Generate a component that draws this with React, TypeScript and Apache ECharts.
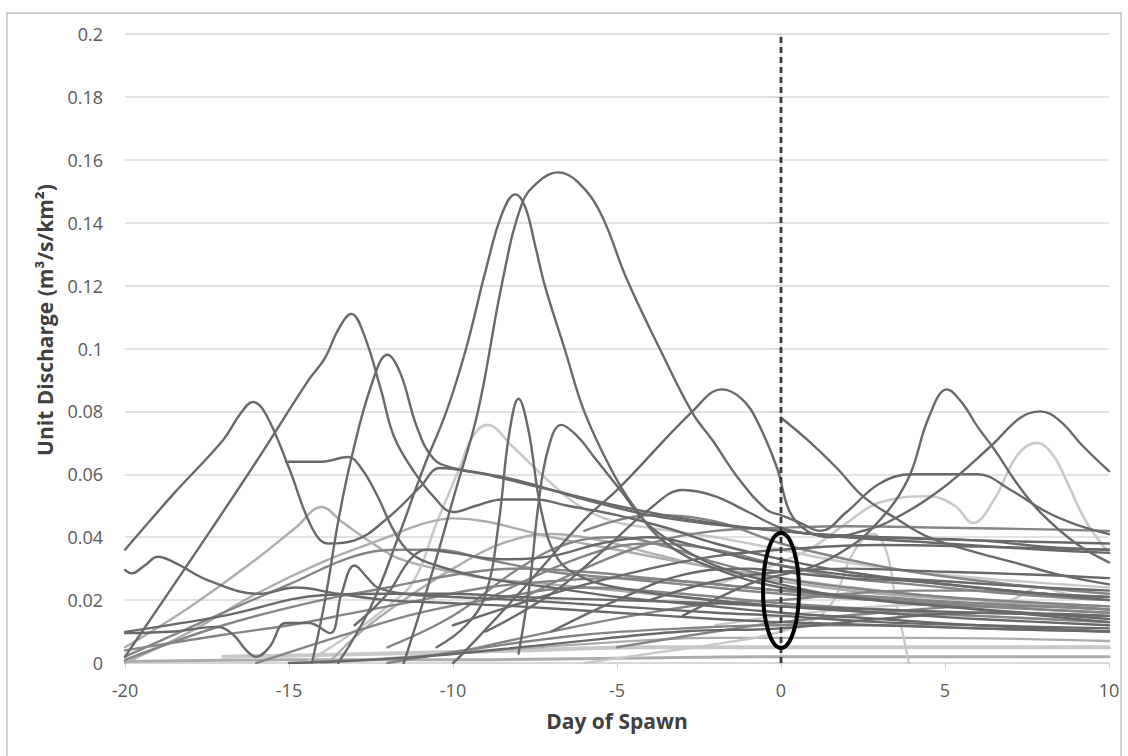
import React, { useEffect, useRef } from "react";
import * as echarts from "echarts";

// ---- axis / text ----
const xAxisTitle = "Day of Spawn";
const yAxisTitle = "Unit Discharge (m³/s/km²)";
const xMin = -20, xMax = 10, xStep = 5;
const yMin = 0, yMax = 0.2, yStep = 0.02;
const spawnDay = 0;
const circledRange = [0.0048, 0.0413]; // y extent of highlighted ellipse at day 0

// ---- series values ([day, unit discharge]) ----
const peak083 = [[-20,0.036],[-18.5,0.054],[-17,0.071],[-16.5,0.079],[-16.1,0.083],[-15.7,0.079],[-15,0.062],[-14.3,0.043],[-13.8,0.038],[-13,0.039],[-12,0.046],[-11,0.056],[-10.4,0.062],[-9.5,0.061],[-8,0.058],[-6,0.052],[-4,0.047],[-2,0.044],[0,0.042],[2,0.040],[5,0.038],[8,0.036],[10,0.035]];
const peak111 = [[-20,0.002],[-18.5,0.025],[-17.4,0.042],[-16,0.064],[-14.4,0.09],[-13.9,0.097],[-13.5,0.106],[-13.1,0.111],[-12.7,0.104],[-12.2,0.087],[-11.8,0.072],[-11.2,0.061],[-10.6,0.053],[-10,0.048],[-9.3,0.05],[-8.5,0.052],[-7.5,0.052],[-6.5,0.05],[-5,0.047],[-3.5,0.043],[-2,0.038],[0,0.033],[2,0.029],[5,0.025],[8,0.022],[10,0.020]];
const peak098 = [[-14.3,0.0],[-13.9,0.02],[-13.5,0.045],[-13.1,0.065],[-12.5,0.088],[-12.0,0.098],[-11.6,0.092],[-11.1,0.075],[-10.6,0.065],[-10,0.062],[-9,0.060],[-8.6,0.059],[-7,0.055],[-5,0.050],[-3,0.046],[-1,0.043],[0,0.042],[1,0.041],[3,0.040],[6,0.039],[10,0.038]];
const plateau065 = [[-15.1,0.064],[-14,0.064],[-13.2,0.0655],[-12.8,0.062],[-12.3,0.053],[-11.8,0.042],[-11.3,0.035],[-10.5,0.031],[-9,0.027],[-7,0.024],[-5,0.021],[-3,0.019],[0,0.016],[3,0.014],[6,0.012],[10,0.010]];
const peak149 = [[-13.5,0.0],[-12.5,0.018],[-11.6,0.042],[-10.9,0.062],[-10.2,0.08],[-9.6,0.1],[-9.0,0.125],[-8.5,0.143],[-8.1,0.149],[-7.8,0.145],[-7.5,0.133],[-7.2,0.12],[-6.6,0.1],[-6.0,0.08],[-5.2,0.062],[-4.5,0.05],[-3.5,0.038],[-2,0.03],[0,0.024],[3,0.02],[6,0.017],[10,0.013]];
const peak156 = [[-11.5,0.0],[-10.6,0.03],[-10,0.052],[-9.24,0.08],[-8.5,0.121],[-7.9,0.146],[-7.4,0.153],[-6.8,0.156],[-6.2,0.153],[-5.5,0.143],[-4.7,0.122],[-3.7,0.1],[-2.7,0.0795],[-2.1,0.071],[-1.25,0.058],[-0.43,0.0487],[0,0.047],[0.6,0.0445],[1.2,0.042],[2,0.048],[3,0.057],[4,0.060],[5,0.060],[6,0.060],[7,0.055],[8.1,0.048],[9,0.044],[10,0.041]];
const peak087 = [[-10,0.0],[-9.7,0.003],[-8,0.022],[-6,0.0455],[-4.9,0.056],[-2.7,0.08],[-1.8,0.087],[-1.2,0.084],[-0.73,0.077],[-0.12,0.062],[0.27,0.048],[0.8,0.042],[1.5,0.040],[2.5,0.042],[3.3,0.045],[4.85,0.055],[6.4,0.069],[7.3,0.078],[7.9,0.080],[8.5,0.077],[9.2,0.069],[10,0.061]];
const peakDay5 = [[-3,0.015],[-1,0.025],[0,0.028],[0.8,0.030],[1.8,0.035],[2.8,0.043],[3.85,0.058],[4.5,0.078],[5.06,0.087],[5.5,0.083],[6,0.075],[6.5,0.068],[7.2,0.057],[7.9,0.048],[9,0.038],[10,0.032]];
const fromDay0 = [[0,0.078],[0.8,0.071],[1.7,0.062],[2.5,0.053],[3.5,0.046],[4.5,0.040],[6,0.035],[7.1,0.032],[8.5,0.028],[10,0.025]];
const spike084 = [[-10.5,0.005],[-9.6,0.012],[-9,0.022],[-8.6,0.045],[-8.3,0.072],[-8.0,0.084],[-7.7,0.074],[-7.3,0.048],[-6.8,0.033],[-6,0.027],[-5,0.024],[-3,0.021],[0,0.018],[3,0.016],[6,0.014],[10,0.012]];
const peak076 = [[-8,0.003],[-7.65,0.026],[-7.4,0.05],[-7.1,0.068],[-6.7,0.0757],[-6.2,0.072],[-5.7,0.0655],[-4.9,0.055],[-4.1,0.0445],[-3.1,0.037],[-2,0.031],[0,0.025],[2,0.021],[5,0.018],[10,0.014]];
const lightPeak075 = [[-14.5,0.0],[-13,0.01],[-12,0.018],[-11.2,0.026],[-10.5,0.0445],[-9.8,0.062],[-9.4,0.072],[-8.96,0.0757],[-8.2,0.069],[-7.1,0.058],[-6.1,0.0496],[-5.1,0.045],[-4,0.043],[-2,0.04],[0,0.036],[2,0.032],[5,0.028],[10,0.024]];
const lightHump049 = [[-20,0.005],[-18,0.018],[-16,0.033],[-14.8,0.043],[-14,0.0496],[-13.4,0.045],[-12.3,0.037],[-11.6,0.033],[-10.5,0.03],[-9,0.027],[-7,0.025],[-5,0.023],[-3,0.021],[0,0.018],[3,0.016],[6,0.015],[10,0.013]];
const bump034 = [[-20,0.0296],[-19.8,0.0285],[-19.4,0.031],[-19.0,0.0338],[-18.5,0.032],[-17.4,0.026],[-15.9,0.022],[-14.8,0.024],[-13.5,0.022],[-12,0.020],[-10,0.019],[-8,0.018],[-5,0.016],[-2,0.014],[0,0.013],[3,0.012],[6,0.011],[10,0.010]];
const wiggleLow = [[-20,0.0095],[-18.5,0.010],[-17.2,0.0115],[-16.7,0.009],[-16.3,0.004],[-16,0.002],[-15.6,0.005],[-15.1,0.0127],[-14.4,0.0127],[-13.75,0.0095],[-13.4,0.022],[-13,0.031],[-12.6,0.027],[-12.3,0.024],[-11.5,0.022],[-10,0.021],[-8,0.02],[-5,0.018],[-2,0.016],[0,0.015],[3,0.013],[6,0.012],[10,0.011]];
const straight010 = [[-20,0.0099],[-17,0.015],[-13.9,0.0216],[-12,0.022],[-10,0.022],[-8,0.021],[-5,0.02],[-2,0.019],[0,0.018],[3,0.017],[6,0.016],[10,0.015]];
const fanA = [[-20,0.001],[-17,0.012],[-14,0.02],[-12,0.024],[-10,0.028],[-8,0.03],[-6,0.029],[-4,0.027],[-2,0.025],[0,0.023],[3,0.021],[6,0.019],[10,0.017]];
const fanB = [[-20,0.002],[-17,0.016],[-15,0.025],[-13,0.034],[-11.5,0.036],[-10.5,0.036],[-9,0.033],[-7,0.029],[-5,0.027],[-3,0.025],[0,0.022],[3,0.02],[6,0.018],[10,0.016]];
const fanC = [[-20,0.0],[-18,0.01],[-16,0.022],[-14,0.032],[-12,0.04],[-11,0.044],[-10,0.046],[-9,0.045],[-7,0.04],[-5,0.036],[-3,0.032],[0,0.027],[3,0.023],[6,0.02],[10,0.017]];
const fanD = [[-20,0.004],[-17,0.009],[-15,0.012],[-13,0.016],[-11,0.02],[-9,0.024],[-7,0.026],[-5,0.027],[-3,0.026],[-1,0.024],[0,0.023],[2,0.021],[5,0.019],[8,0.017],[10,0.016]];
const hump040 = [[-12,0.005],[-10,0.015],[-8,0.03],[-6.5,0.038],[-5,0.04],[-3.5,0.037],[-2,0.032],[0,0.027],[2,0.024],[5,0.021],[10,0.018]];
const hump055 = [[-9,0.01],[-7,0.022],[-5.5,0.035],[-4,0.049],[-3,0.055],[-2,0.053],[-1,0.048],[0,0.043],[1,0.041],[3,0.040],[6,0.039],[8,0.037],[10,0.036]];
const hump036 = [[-13,0.012],[-12,0.022],[-11.3,0.033],[-10.8,0.036],[-10,0.035],[-8.5,0.033],[-7,0.034],[-5.5,0.038],[-4,0.04],[-2.5,0.037],[-1,0.033],[0,0.031],[2,0.028],[5,0.026],[8,0.024],[10,0.023]];
const lightDrop = [[-6,0.0],[-4,0.003],[-2,0.006],[0,0.01],[1.4,0.017],[2.2,0.035],[2.8,0.041],[3.2,0.036],[3.5,0.02],[3.9,0.0]];
const lightPeak070 = [[-2,0.025],[0,0.032],[1,0.037],[2,0.0445],[3,0.051],[4.5,0.053],[5.3,0.05],[5.85,0.0445],[6.5,0.052],[7.2,0.066],[7.8,0.070],[8.3,0.066],[8.7,0.058],[9.3,0.045],[10,0.035]];
const flat043 = [[-8,0.02],[-6,0.03],[-4,0.038],[-2,0.042],[0,0.043],[2,0.0435],[5,0.043],[8,0.0425],[10,0.042]];
const flat036 = [[-10,0.012],[-7,0.022],[-4,0.03],[-2,0.034],[0,0.036],[3,0.0375],[6,0.037],[10,0.036]];
const decline047 = [[-6,0.042],[-4,0.047],[-2,0.045],[0,0.038],[2,0.033],[4,0.029],[7,0.025],[10,0.022]];
const decline038 = [[-9,0.02],[-6,0.034],[-4,0.038],[-2,0.036],[0,0.031],[2,0.027],[4,0.025],[7,0.022],[10,0.02]];
const mid030 = [[-7,0.01],[-5,0.02],[-3,0.028],[-1,0.03],[0,0.029],[2,0.027],[4,0.026],[6,0.024],[8,0.022],[10,0.021]];
const rise023 = [[-10,0.003],[-7,0.01],[-4,0.016],[-2,0.019],[0,0.02],[2,0.022],[4,0.023],[6,0.023],[8,0.022],[10,0.021]];
const lightBump024 = [[-2,0.012],[0,0.015],[3,0.018],[6,0.019],[7,0.02],[7.9,0.024],[8.7,0.022],[10,0.02]];
const low012 = [[-12,0.0],[-9,0.005],[-6,0.009],[-3,0.011],[0,0.012],[3,0.012],[6,0.011],[10,0.01]];
const low008 = [[-14,0.0],[-10,0.003],[-6,0.006],[-2,0.008],[0,0.008],[4,0.008],[10,0.007]];
const band005 = [[-17,0.002],[-12,0.003],[-8,0.004],[-4,0.005],[0,0.005],[5,0.005],[10,0.005]];
const band002 = [[-20,0.0005],[-15,0.001],[-10,0.001],[-5,0.0015],[0,0.002],[5,0.002],[10,0.002]];
const rise015 = [[-15,0.0],[-11,0.002],[-7,0.006],[-3,0.01],[0,0.011],[3,0.014],[6,0.016],[10,0.015]];
const hump024 = [[-16,0.0],[-13,0.01],[-11,0.016],[-9,0.02],[-6,0.024],[-3,0.022],[0,0.019],[3,0.017],[6,0.015],[10,0.013]];
const lightRise041 = [[-13.8,0.0],[-12.8,0.01],[-11.5,0.02],[-10,0.03],[-8.5,0.038],[-7,0.041],[-5.5,0.039],[-4,0.035],[-2,0.03],[0,0.026],[3,0.022],[6,0.02],[10,0.018]];
const level028 = [[-4,0.02],[-2,0.026],[0,0.029],[2,0.03],[5,0.029],[8,0.028],[10,0.027]];
const rise018 = [[-5,0.005],[-2,0.01],[0,0.013],[3,0.016],[6,0.018],[8,0.018],[10,0.017]];

// ---- styles (kept apart from the values) ----
const DARK = "#696969";
const MID = "#858585";
const LIGHT = "#adadad";
const PALE = "#c9c9c9";

const seriesDefs: [string, number[][], string, number][] = [
  ["band002", band002, LIGHT, 3],
  ["band005", band005, PALE, 4],
  ["low008", low008, LIGHT, 2.4],
  ["lightDrop", lightDrop, PALE, 2.4],
  ["lightPeak070", lightPeak070, PALE, 2.6],
  ["lightBump024", lightBump024, PALE, 2.4],
  ["lightRise041", lightRise041, LIGHT, 2.4],
  ["lightHump049", lightHump049, LIGHT, 2.4],
  ["lightPeak075", lightPeak075, PALE, 2.6],
  ["fanC", fanC, LIGHT, 2.4],
  ["fanA", fanA, MID, 2.4],
  ["fanB", fanB, MID, 2.4],
  ["fanD", fanD, MID, 2.4],
  ["hump040", hump040, MID, 2.4],
  ["decline047", decline047, MID, 2.4],
  ["decline038", decline038, MID, 2.4],
  ["rise023", rise023, MID, 2.4],
  ["low012", low012, MID, 2.4],
  ["hump024", hump024, MID, 2.4],
  ["rise018", rise018, MID, 2.4],
  ["flat043", flat043, MID, 2.4],
  ["rise015", rise015, DARK, 2.4],
  ["mid030", mid030, DARK, 2.4],
  ["level028", level028, DARK, 2.4],
  ["flat036", flat036, DARK, 2.4],
  ["hump036", hump036, DARK, 2.4],
  ["hump055", hump055, DARK, 2.4],
  ["straight010", straight010, DARK, 2.4],
  ["wiggleLow", wiggleLow, DARK, 2.4],
  ["bump034", bump034, DARK, 2.4],
  ["plateau065", plateau065, DARK, 2.4],
  ["spike084", spike084, DARK, 2.4],
  ["peak076", peak076, DARK, 2.4],
  ["fromDay0", fromDay0, DARK, 2.4],
  ["peakDay5", peakDay5, DARK, 2.4],
  ["peak087", peak087, DARK, 2.4],
  ["peak083", peak083, DARK, 2.4],
  ["peak098", peak098, DARK, 2.4],
  ["peak111", peak111, DARK, 2.4],
  ["peak149", peak149, DARK, 2.4],
  ["peak156", peak156, DARK, 2.4],
];

const FONT = "'Open Sans', 'Noto Sans', sans-serif";

export default function App() {
  const ref = useRef<HTMLDivElement>(null);

  useEffect(() => {
    if (!ref.current) return;
    const chart = echarts.init(ref.current, undefined, { renderer: "svg" });

    const series: any[] = seriesDefs.map(([name, data, color, width]) => ({
      name,
      type: "line",
      data,
      smooth: 0.4,
      showSymbol: false,
      symbol: "none",
      silent: true,
      lineStyle: { color, width, cap: "round", join: "round" },
    }));
    series.push({
      name: "spawn",
      type: "line",
      data: [[spawnDay, yMin], [spawnDay, yMax]],
      showSymbol: false,
      symbol: "none",
      silent: true,
      z: 5,
      lineStyle: { color: "#3a3a3a", width: 2.8, type: [6, 4] },
    });

    chart.setOption({
      animation: false,
      backgroundColor: "#ffffff",
      grid: { left: 125, right: 19, top: 34, bottom: 93, containLabel: false },
      xAxis: {
        type: "value",
        min: xMin,
        max: xMax,
        interval: xStep,
        name: xAxisTitle,
        nameLocation: "middle",
        nameGap: 47,
        nameTextStyle: { fontFamily: FONT, fontSize: 21, fontWeight: "bold", color: "#404040" },
        axisLine: { show: true, onZero: false, lineStyle: { color: "#d4d4d4", width: 1.5 } },
        axisTick: { show: true, length: 5, lineStyle: { color: "#cfcfcf" } },
        axisLabel: { fontFamily: FONT, fontSize: 18, color: "#595959", margin: 18 },
        splitLine: { show: false },
      },
      yAxis: {
        type: "value",
        min: yMin,
        max: yMax,
        interval: yStep,
        axisLine: { show: true, lineStyle: { color: "#d4d4d4", width: 1.5 } },
        axisTick: { show: true, length: 6, lineStyle: { color: "#cfcfcf" } },
        axisLabel: {
          fontFamily: FONT,
          fontSize: 18,
          color: "#595959",
          margin: 22,
          formatter: (v: number) => String(parseFloat(v.toFixed(2))),
        },
        splitLine: { show: true, lineStyle: { color: "#d9d9d9", width: 1.5 } },
      },
      series,
    });

    const c = chart.convertToPixel({ xAxisIndex: 0, yAxisIndex: 0 }, [spawnDay, circledRange[0]]) as number[];
    const t = chart.convertToPixel({ xAxisIndex: 0, yAxisIndex: 0 }, [spawnDay, circledRange[1]]) as number[];

    chart.setOption({
      graphic: [
        {
          type: "rect",
          silent: true,
          shape: { x: 7, y: 13, width: 1114, height: 800 },
          style: { fill: "none", stroke: "#d0d0d0", lineWidth: 2 },
        },
        {
          type: "text",
          silent: true,
          x: 45,
          y: 320,
          rotation: Math.PI / 2,
          style: {
            text: yAxisTitle,
            font: `bold 21px ${FONT}`,
            fill: "#404040",
            textAlign: "center",
            textVerticalAlign: "middle",
          },
        },
        {
          type: "ellipse",
          silent: true,
          z: 100,
          shape: { cx: c[0], cy: (c[1] + t[1]) / 2, rx: 18, ry: Math.abs(c[1] - t[1]) / 2 },
          style: { fill: "none", stroke: "#000000", lineWidth: 4 },
        },
      ],
    });

    return () => chart.dispose();
  }, []);

  return (
    <div
      ref={ref}
      style={{ position: "fixed", left: 0, top: 0, width: 1128, height: 756 }}
    />
  );
}
